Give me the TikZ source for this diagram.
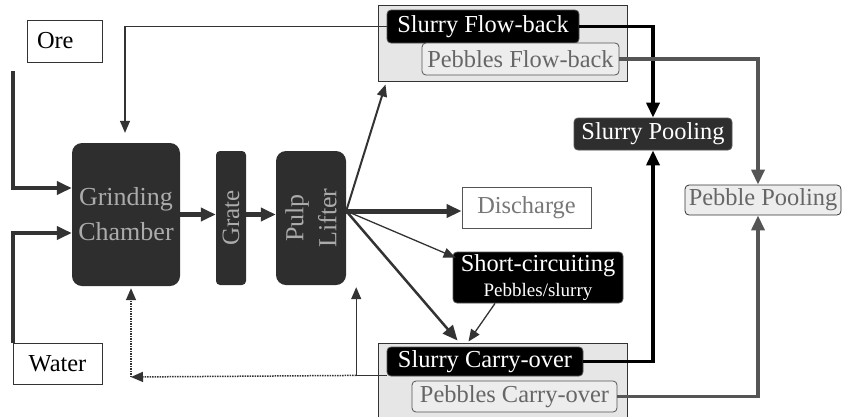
\documentclass[tikz,border=0pt]{standalone}
\usepackage{fontspec}
\setmainfont{Liberation Serif}
\usetikzlibrary{arrows.meta,calc}
\definecolor{dk}{HTML}{2E2E2E}
\definecolor{lg}{HTML}{E6E6E6}
\definecolor{pg}{HTML}{EDEDED}
\definecolor{tg}{HTML}{666666}
\definecolor{gct}{HTML}{ABABAB}
\definecolor{ln}{HTML}{333333}
\definecolor{pl}{HTML}{555555}
\definecolor{dg}{HTML}{777777}
\begin{document}
\begin{tikzpicture}[x=1pt,y=-1pt,
  every node/.style={inner sep=0pt, font=\fontsize{24.4}{29}\selectfont},
  plainbox/.style={draw=ln, line width=1pt, fill=white},
  darkblk/.style={fill=dk, rounded corners=10pt, text=gct},
  blackbox/.style={fill=black, draw=pl, line width=0.8pt, rounded corners=4pt, text=white},
  pebbox/.style={fill=pg, draw=pl, line width=0.8pt, rounded corners=4pt, text=tg},
  groupbox/.style={fill=lg, draw=ln, line width=1pt},
  arrT/.style={-{Triangle[length=15pt,width=13pt]}},
  arrt/.style={-{Triangle[length=12pt,width=10pt]}},
  feed/.style={draw=ln, line width=4pt, arrT},
  thinline/.style={draw=ln, line width=1.3pt, arrt},
  dotline/.style={draw=ln, line width=1.5pt, densely dotted, arrt},
  slurryline/.style={draw=black, line width=3.5pt, arrT},
  pebline/.style={draw=pl, line width=3.5pt, arrT}
]
\useasboundingbox (0,0) rectangle (842,416);

% sources
\node[plainbox, minimum width=75, minimum height=42, text width=55, align=left] (Ore) at (64.5,41) {Ore};
\node[plainbox, minimum width=89, minimum height=41] (Water) at (57.5,363.5) {Water};

% mill parts
\node[darkblk, minimum width=108, minimum height=143, align=center,
      font=\fontsize{26}{35}\selectfont] (GC) at (126,214.5) {Grinding\\Chamber};
\node[darkblk, rounded corners=4pt, minimum width=30, minimum height=134,
      label={[rotate=90, text=gct, font=\fontsize{25}{30}\selectfont]center:Grate}] (Grate) at (231,218) {};
\node[darkblk, minimum width=70, minimum height=134,
      label={[rotate=90, text=gct, align=center, font=\fontsize{26}{33}\selectfont]center:Pulp\\Lifter}] (PL) at (311,218) {};

% flow-back group
\node[groupbox, minimum width=249, minimum height=76] (FB) at (502.5,43) {};
\node[blackbox, minimum width=192, minimum height=33] (SFB) at (483,26.5) {Slurry Flow-back};
\node[pebbox, minimum width=197, minimum height=32] (PFB) at (520.5,59) {Pebbles Flow-back};

% carry-over group
\node[groupbox, minimum width=249, minimum height=76] (CO) at (502.5,381) {};
\node[blackbox, minimum width=196, minimum height=29] (SCO) at (485,361.5) {Slurry Carry-over};
\node[pebbox, minimum width=205, minimum height=31] (PCO) at (514.5,396.5) {Pebbles Carry-over};

% poolings and outlets
\node[blackbox, fill=dk, minimum width=158, minimum height=32] (SP) at (653,134) {Slurry Pooling};
\node[pebbox, draw=ln, minimum width=156, minimum height=30] (PP) at (763,200) {Pebble Pooling};
\node[draw=pl, line width=0.8pt, fill=white, text=dg, minimum width=129, minimum height=41] (DIS) at (526.5,207.5) {Discharge};
\node[blackbox, minimum width=170, minimum height=51, align=center] (SC) at (538,277.5)
  {Short-circuiting\\[-4pt]{\fontsize{19}{22}\selectfont Pebbles/slurry}};

% coordinates
\coordinate (oreS) at (13,71);
\coordinate (hub) at ($(PL.east)+(0,-7)$);
\coordinate (plin) at ($(PL.south east)+(10,2)$);
\coordinate (scoL) at ($(SCO.south west)+(0,-1)$);
\coordinate (turn) at (plin |- scoL);
\coordinate (dc) at (131,377);

% feeds
\draw[feed] (oreS) |- ($(GC.west)+(0,-26.5)$);
\draw[feed] (Water.north west) |- ($(GC.west)+(0,18.5)$);
\draw[feed, line width=4.5pt] (GC.east) -- (GC.east -| Grate.west);
\draw[feed, line width=4.5pt] (GC.east -| Grate.east) -- (GC.east -| PL.west);

% pulp lifter outputs
\draw[draw=ln, line width=2pt, arrt] (hub) -- ($(FB.south west)+(8,3)$);
\draw[feed, line width=5pt] (hub) -- (hub -| DIS.west);
\draw[thinline] (hub) -- ($(SC.north west)+(3,6)$);
\draw[draw=ln, line width=2.5pt, arrT] (hub) -- ($(CO.north west)+(80,-2)$);
\draw[thinline] ($(SC.south)+(-43,0)$) -- ($(CO.north west)+(91,-1)$);

% to poolings
\draw[slurryline] (SFB.east) -| (SP.north);
\draw[slurryline] (SCO.east) -| (SP.south);
\draw[pebline] (PFB.east) -| ($(PP.north)+(-5,0)$);
\draw[pebline] (PCO.east) -| ($(PP.south)+(-5,0)$);

% recycle
\draw[thinline, shorten >=10pt] (SFB.west) -| ($(GC.north)+(-1,0)$);
\draw[thinline] (scoL) -| (plin);
\draw[dotline] (turn) -- (dc);
\draw[dotline, shorten >=2pt] (dc) -- (dc |- GC.south);
\end{tikzpicture}
\end{document}
